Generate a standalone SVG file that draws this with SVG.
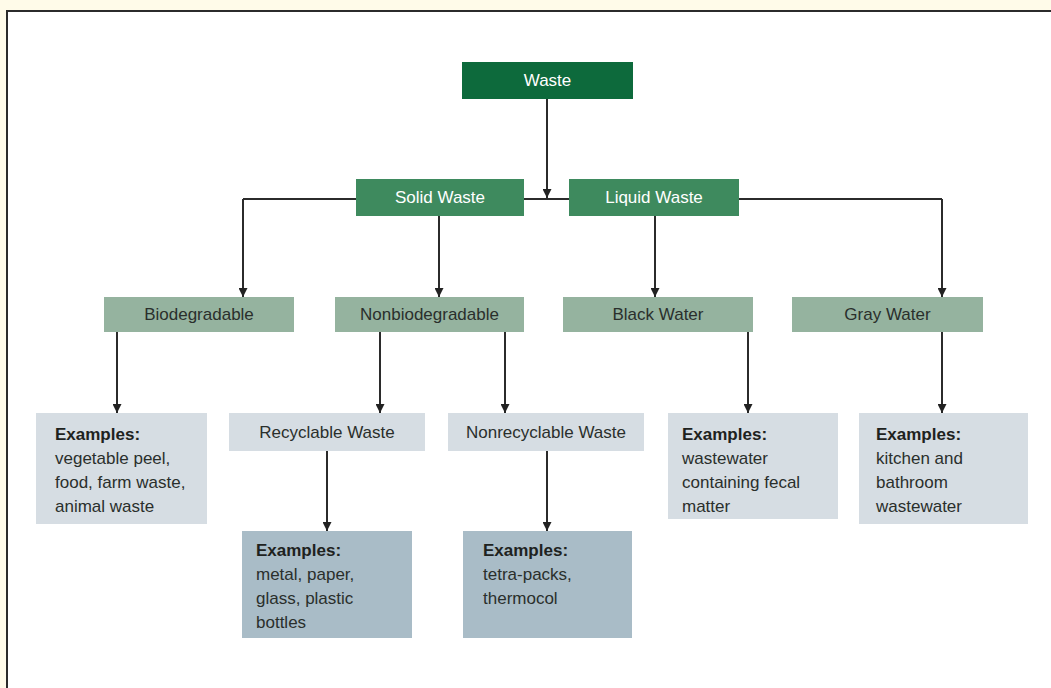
<svg xmlns="http://www.w3.org/2000/svg" width="1051" height="688" viewBox="0 0 1051 688">
  <defs>
    <marker id="arr" viewBox="0 0 10 10" refX="10" refY="5" markerWidth="10" markerHeight="9" markerUnits="userSpaceOnUse" orient="auto">
      <path d="M0,0 L10,5 L0,10 z" fill="#222"/>
    </marker>
    <style>
      .t { font-family: "Liberation Sans", Arial, sans-serif; font-size: 17px; }
      .w { fill: #ffffff; }
      .d { fill: #2a2f2c; }
      .b { font-weight: bold; fill: #1e2220; }
      .top { fill: #0d6a3c; }
      .l1 { fill: #3e8a5e; }
      .l2 { fill: #95b39f; }
      .lt { fill: #d6dde3; }
      .dk { fill: #a9bcc7; }
      .c { fill: none; stroke: #2b2b2b; stroke-width: 2; }
    </style>
  </defs>
  <rect x="0" y="0" width="1051" height="688" fill="#fffbe9"/>
  <rect x="7" y="11" width="1060" height="690" fill="#ffffff" stroke="#2b2b2b" stroke-width="2"/>

  <g id="connectors">
    <path class="c" d="M547,99 V198" marker-end="url(#arr)"/>
    <path class="c" d="M243,199 H942"/>
    <path class="c" d="M243,199 V297" marker-end="url(#arr)"/>
    <path class="c" d="M439,215 V297" marker-end="url(#arr)"/>
    <path class="c" d="M655,215 V297" marker-end="url(#arr)"/>
    <path class="c" d="M942,199 V297" marker-end="url(#arr)"/>
    <path class="c" d="M117,332 V413" marker-end="url(#arr)"/>
    <path class="c" d="M380,332 V413" marker-end="url(#arr)"/>
    <path class="c" d="M505,332 V413" marker-end="url(#arr)"/>
    <path class="c" d="M748,332 V413" marker-end="url(#arr)"/>
    <path class="c" d="M942,332 V413" marker-end="url(#arr)"/>
    <path class="c" d="M327,451 V531" marker-end="url(#arr)"/>
    <path class="c" d="M547,451 V531" marker-end="url(#arr)"/>
  </g>

  <g id="waste">
    <rect class="top" x="462" y="62" width="171" height="37"/>
    <text class="t w" x="547.5" y="86" text-anchor="middle">Waste</text>
  </g>
  <g id="solid-waste">
    <rect class="l1" x="356" y="179" width="168" height="37"/>
    <text class="t w" x="440" y="203" text-anchor="middle">Solid Waste</text>
  </g>
  <g id="liquid-waste">
    <rect class="l1" x="569" y="179" width="170" height="37"/>
    <text class="t w" x="654" y="203" text-anchor="middle">Liquid Waste</text>
  </g>

  <g id="biodegradable">
    <rect class="l2" x="104" y="297" width="190" height="35"/>
    <text class="t d" x="199" y="320" text-anchor="middle">Biodegradable</text>
  </g>
  <g id="nonbiodegradable">
    <rect class="l2" x="335" y="297" width="189" height="35"/>
    <text class="t d" x="429.5" y="320" text-anchor="middle">Nonbiodegradable</text>
  </g>
  <g id="black-water">
    <rect class="l2" x="563" y="297" width="190" height="35"/>
    <text class="t d" x="658" y="320" text-anchor="middle">Black Water</text>
  </g>
  <g id="gray-water">
    <rect class="l2" x="792" y="297" width="191" height="35"/>
    <text class="t d" x="887.5" y="320" text-anchor="middle">Gray Water</text>
  </g>

  <g id="bio-examples">
    <rect class="lt" x="36" y="413" width="171" height="111"/>
    <text class="t b" x="55" y="440">Examples:</text>
    <text class="t d" x="55" y="464">vegetable peel,</text>
    <text class="t d" x="55" y="488">food, farm waste,</text>
    <text class="t d" x="55" y="512">animal waste</text>
  </g>
  <g id="recyclable-waste">
    <rect class="lt" x="229" y="413" width="196" height="38"/>
    <text class="t d" x="327" y="438" text-anchor="middle">Recyclable Waste</text>
  </g>
  <g id="nonrecyclable-waste">
    <rect class="lt" x="448" y="413" width="196" height="38"/>
    <text class="t d" x="546" y="438" text-anchor="middle">Nonrecyclable Waste</text>
  </g>
  <g id="black-examples">
    <rect class="lt" x="668" y="413" width="170" height="106"/>
    <text class="t b" x="682" y="440">Examples:</text>
    <text class="t d" x="682" y="464">wastewater</text>
    <text class="t d" x="682" y="488">containing fecal</text>
    <text class="t d" x="682" y="512">matter</text>
  </g>
  <g id="gray-examples">
    <rect class="lt" x="859" y="413" width="169" height="111"/>
    <text class="t b" x="876" y="440">Examples:</text>
    <text class="t d" x="876" y="464">kitchen and</text>
    <text class="t d" x="876" y="488">bathroom</text>
    <text class="t d" x="876" y="512">wastewater</text>
  </g>

  <g id="recyclable-examples">
    <rect class="dk" x="242" y="531" width="170" height="107"/>
    <text class="t b" x="256" y="556">Examples:</text>
    <text class="t d" x="256" y="580">metal, paper,</text>
    <text class="t d" x="256" y="604">glass, plastic</text>
    <text class="t d" x="256" y="628">bottles</text>
  </g>
  <g id="nonrecyclable-examples">
    <rect class="dk" x="463" y="531" width="169" height="107"/>
    <text class="t b" x="483" y="556">Examples:</text>
    <text class="t d" x="483" y="580">tetra-packs,</text>
    <text class="t d" x="483" y="604">thermocol</text>
  </g>
</svg>
